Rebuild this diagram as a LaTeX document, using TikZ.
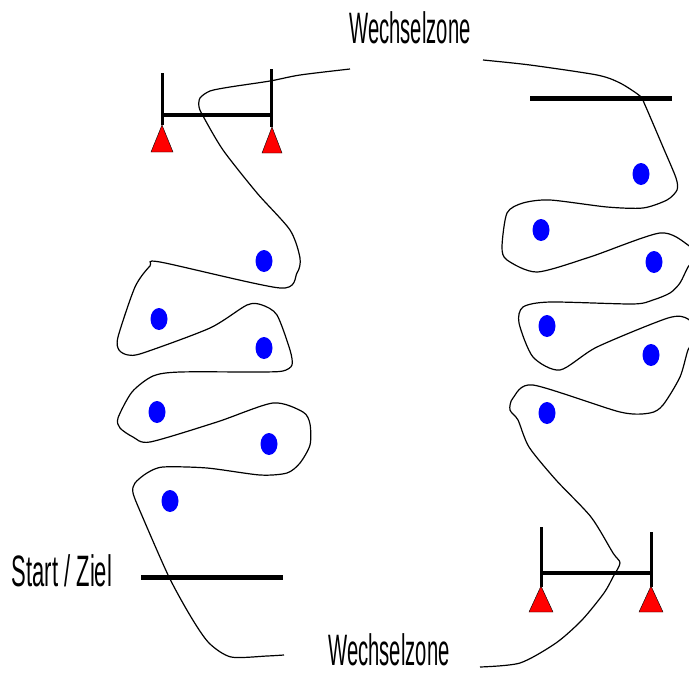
\documentclass[tikz,border=0pt]{standalone}
\usepackage{fontspec}
\setmainfont{Liberation Sans}
\usetikzlibrary{shapes.geometric}
\begin{document}
\begin{tikzpicture}[x=1pt,y=-1pt,
  track/.style={line width=1.2pt,black,smooth,tension=0.45},
  bar/.style={line width=5pt,black},
  pole/.style={line width=3pt,black},
  cross/.style={line width=3.5pt,black},
  cone/.style={fill=red,draw=black,line width=0.4pt},
  ball/.style={ellipse,fill=blue,inner sep=0pt,minimum width=17pt,minimum height=22pt},
  lbl/.style={inner sep=0pt,anchor=base,font=\fontsize{44}{44}\selectfont,xscale=0.46}]
\useasboundingbox (0,0) rectangle (689,675);
\clip (0,0) rectangle (689,675);
% labels
\node[lbl] (wz1) at (410,43) {Wechselzone};
\node[lbl] (wz2) at (389,665) {Wechselzone};
\node[lbl,xscale=1.087] (sz) at (62,586) {Start / Ziel};
% left gate
\draw[pole] (162,73) -- (162,125);
\draw[pole] (271,69) -- (271,127);
\draw[cross] (162,115) -- (271,115);
\draw[cone] (162,125) -- (173,152) -- (151,152) -- cycle;
\draw[cone] (272,127) -- (282,153) -- (262,153) -- cycle;
% right gate
\draw[pole] (541,527) -- (541,587);
\draw[pole] (651,532) -- (651,587);
\draw[cross] (541,573) -- (651,573);
\draw[cone] (541,586) -- (553,612) -- (529,612) -- cycle;
\draw[cone] (651,586) -- (663,612) -- (639,612) -- cycle;
% bars
\draw[bar] (530,98) -- (672,98);
\draw[bar] (141,577) -- (283,577);
% left track
\draw[track] plot coordinates {(350,69) (300,75) (270,81) (230,87) (210,91) (200,98) (199,107) (203,116) (223,150) (257,193) (290,230) (300,258) (297,273) (280,288) (160,262) (150,266) (135,287) (118,337) (119,350) (128,355) (143,353) (210,328) (247,305) (262,305) (277,315) (290,350) (292,365) (283,371) (260,372) (180,372) (153,376) (132,392) (118,418) (120,428) (133,437) (150,442) (217,422) (273,403) (303,412) (310,424) (310,445) (300,463) (287,473) (260,475) (207,468) (163,467) (147,473) (135,483) (133,493) (143,518) (169,577) (191,617) (209,643) (231,657) (267,656) (284,655)};
% right track
\draw[track] plot coordinates {(483,60) (530,65) (597,75) (620,83) (640,96) (645,105) (663,147) (676,178) (677,190) (667,200) (643,208) (607,207) (550,200) (523,203) (507,213) (502,247) (507,260) (537,272) (590,257) (660,233) (688,245) (696,256) (688,267) (680,283) (670,293) (653,300) (633,304) (550,302) (523,307) (519,323) (533,357) (560,370) (597,347) (668,318) (688,319) (696,335) (688,350) (680,377) (663,405) (650,413) (620,412) (533,385) (513,398) (510,410) (518,420) (529,447) (556,480) (591,517) (613,553) (620,563) (613,577) (604,593) (582,620) (556,643) (520,663) (480,667)};
% balls
\node[ball] (l1) at (264,261) {};
\node[ball] (l2) at (159,319) {};
\node[ball] (l3) at (264,348) {};
\node[ball] (l4) at (157,412) {};
\node[ball] (l5) at (269,444) {};
\node[ball] (l6) at (170,501) {};
\node[ball] (r1) at (641,174) {};
\node[ball] (r2) at (541,230) {};
\node[ball] (r3) at (654,262) {};
\node[ball] (r4) at (547,326) {};
\node[ball] (r5) at (651,355) {};
\node[ball] (r6) at (547,413) {};
\end{tikzpicture}
\end{document}
